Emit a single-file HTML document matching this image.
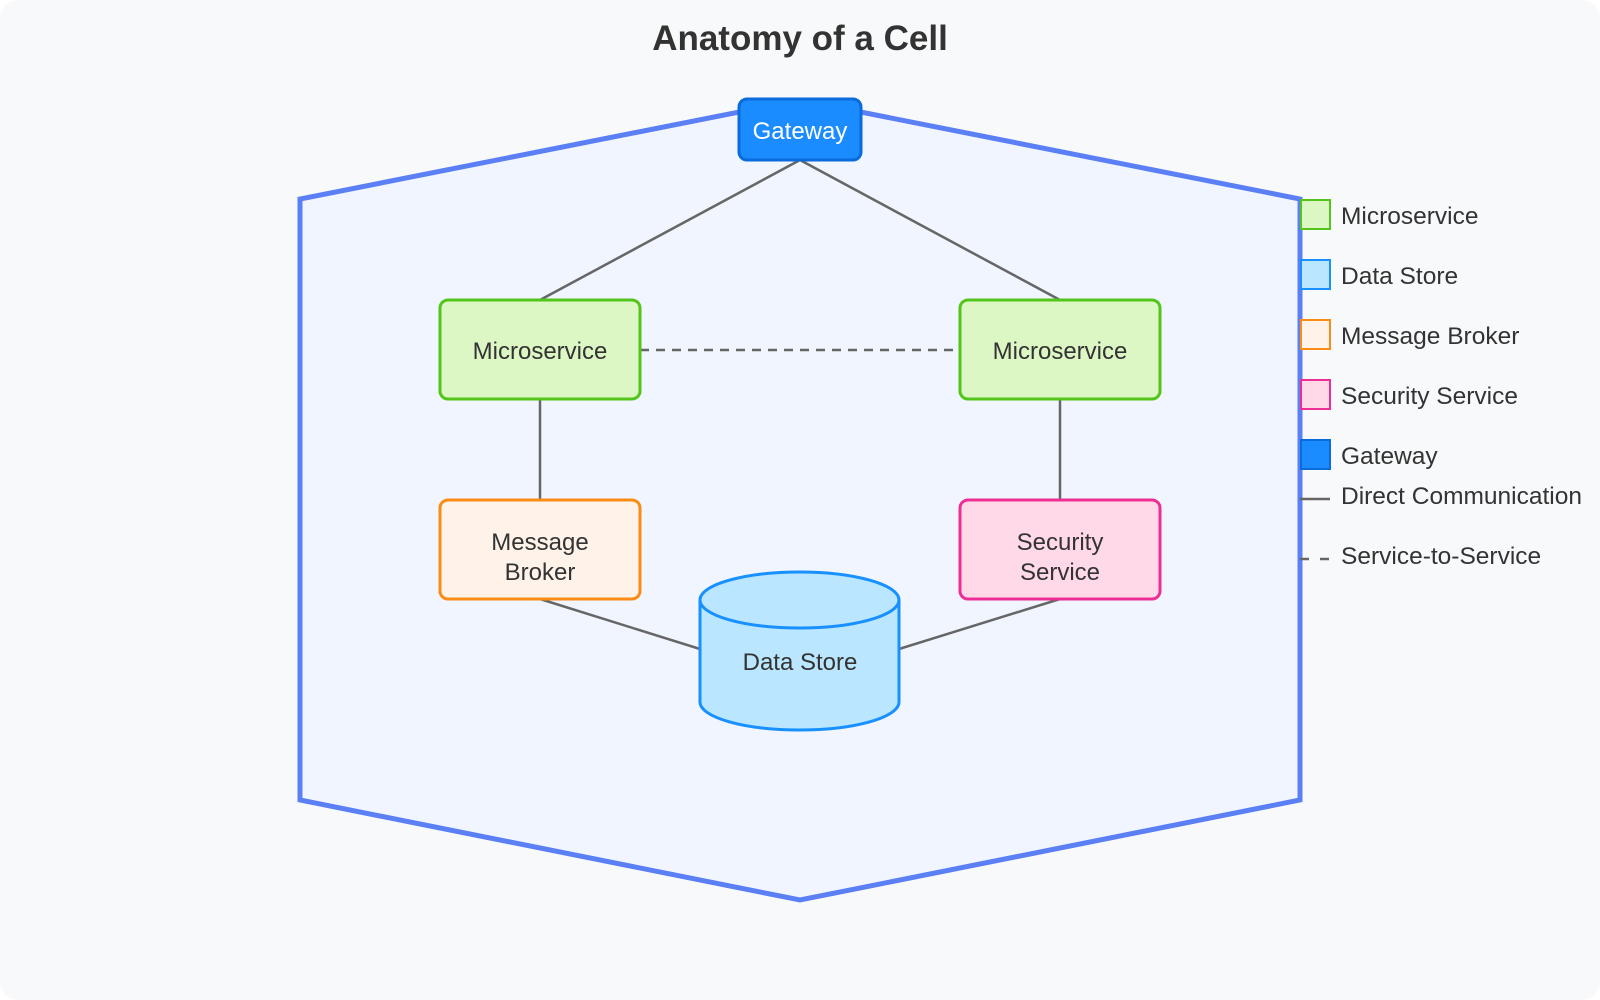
<!DOCTYPE html>
<html><head><meta charset="utf-8"><style>
html,body{margin:0;padding:0;background:#fff}
svg{display:block}
text{font-family:"Liberation Sans",sans-serif;fill:#333}
</style></head><body>
<svg width="1600" height="1000" viewBox="0 0 1600 1000">
<rect x="0" y="0" width="1600" height="1000" rx="18" fill="#f8f9fb"/>
<text x="800" y="50" text-anchor="middle" font-size="35" font-weight="bold">Anatomy of a Cell</text>
<polygon points="800,100 1300,199 1300,800 800,900 300,800 300,199" fill="#f0f5ff" stroke="#5b7ff5" stroke-width="5" stroke-linejoin="miter"/>
<g stroke="#666" stroke-width="2.5" fill="none">
<line x1="800" y1="160" x2="540" y2="300"/>
<line x1="800" y1="160" x2="1060" y2="300"/>
<line x1="540" y1="399" x2="540" y2="500"/>
<line x1="1060" y1="399" x2="1060" y2="500"/>
<line x1="540" y1="599" x2="700" y2="649"/>
<line x1="1060" y1="599" x2="899" y2="649"/>
<line x1="640" y1="350" x2="960" y2="350" stroke-dasharray="9,7"/>
</g>
<rect x="739" y="99" width="122" height="61" rx="8" fill="#1a8cff" stroke="#0a6cdb" stroke-width="3"/>
<text x="800" y="139" text-anchor="middle" font-size="24" style="fill:#fff">Gateway</text>
<rect x="440" y="300" width="200" height="99" rx="8" fill="#dcf7c4" stroke="#52c41a" stroke-width="3"/>
<text x="540" y="359" text-anchor="middle" font-size="24">Microservice</text>
<rect x="960" y="300" width="200" height="99" rx="8" fill="#dcf7c4" stroke="#52c41a" stroke-width="3"/>
<text x="1060" y="359" text-anchor="middle" font-size="24">Microservice</text>
<rect x="440" y="500" width="200" height="99" rx="8" fill="#fff2e8" stroke="#fa8c16" stroke-width="3"/>
<text x="540" y="550" text-anchor="middle" font-size="24">Message</text>
<text x="540" y="580" text-anchor="middle" font-size="24">Broker</text>
<rect x="960" y="500" width="200" height="99" rx="8" fill="#ffd9e8" stroke="#eb2f96" stroke-width="3"/>
<text x="1060" y="550" text-anchor="middle" font-size="24">Security</text>
<text x="1060" y="580" text-anchor="middle" font-size="24">Service</text>
<path d="M700,600 L700,702 A99.5,28 0 0 0 899,702 L899,600" fill="#bae7ff" stroke="#1890ff" stroke-width="3"/>
<ellipse cx="799.5" cy="600" rx="99.5" ry="28" fill="#bae7ff" stroke="#1890ff" stroke-width="3"/>
<text x="800" y="670" text-anchor="middle" font-size="24">Data Store</text>
<g font-size="24.5">
<rect x="1301" y="200" width="29" height="29" fill="#dcf7c4" stroke="#52c41a" stroke-width="2"/>
<text x="1341" y="224">Microservice</text>
<rect x="1301" y="260" width="29" height="29" fill="#bae7ff" stroke="#1890ff" stroke-width="2"/>
<text x="1341" y="284">Data Store</text>
<rect x="1301" y="320" width="29" height="29" fill="#fff2e8" stroke="#fa8c16" stroke-width="2"/>
<text x="1341" y="344">Message Broker</text>
<rect x="1301" y="380" width="29" height="29" fill="#ffd9e8" stroke="#eb2f96" stroke-width="2"/>
<text x="1341" y="404">Security Service</text>
<rect x="1301" y="440" width="29" height="29" fill="#1a8cff" stroke="#0a6cdb" stroke-width="2"/>
<text x="1341" y="464">Gateway</text>
<line x1="1300" y1="499" x2="1330" y2="499" stroke="#666" stroke-width="2.5"/>
<text x="1341" y="504">Direct Communication</text>
<line x1="1300" y1="559" x2="1330" y2="559" stroke="#666" stroke-width="2.5" stroke-dasharray="9,11"/>
<text x="1341" y="564">Service-to-Service</text>
</g>
</svg>
</body></html>
